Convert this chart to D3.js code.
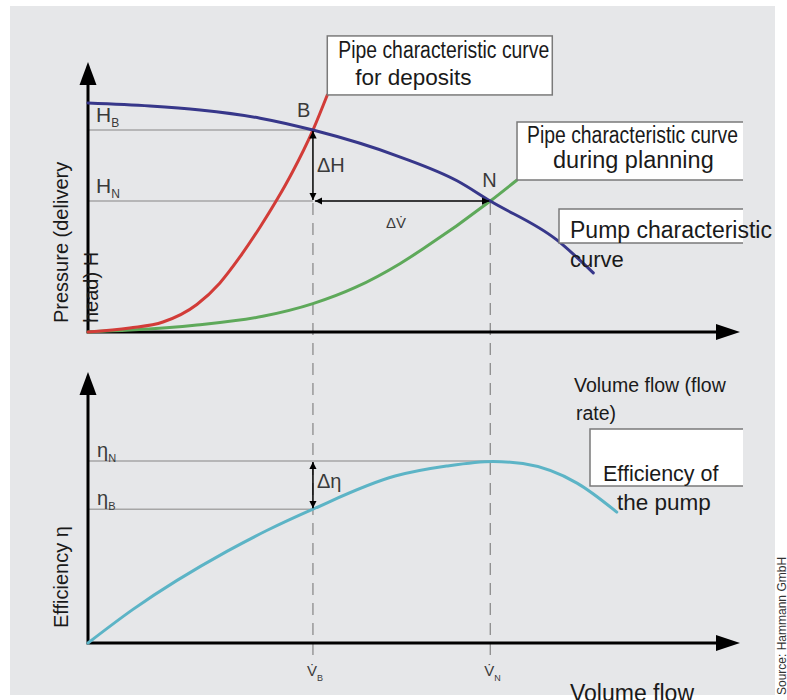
<!DOCTYPE html>
<meta charset="utf-8">
<html>
<head>
  <title>Pump and pipe characteristic curves</title>
  <style>
    body { margin: 0; background: #fff; }
    svg { display: block; font-family: 'Liberation Sans', Arial, sans-serif; }
    .panel { fill: #e6e7e9; }
    .axis { stroke: #000; stroke-width: 3px; fill: none; }
    .ref { stroke: #a6a6a6; stroke-width: 1.5px; fill: none; }
    .dash { stroke: #8c8c8c; stroke-width: 1.3px; stroke-dasharray: 12,8; fill: none; }
    .curve { fill: none; stroke-width: 3px; stroke-linecap: round; }
    .box { fill: #fff; stroke: #7a7a7a; stroke-width: 1.5px; }
    .lbl { fill: #1a1a1a; }
    .sym { fill: #3a3a3a; }
  </style>
  <script src="https://d3js.org/d3.v7.min.js"></script>
</head>
<body>
  <svg width="787" height="700"></svg>

  <script>
    // volume flow (0-100) vs pressure / efficiency (0-100)
    var pumpCurve = [[0,84.8],[9.5,83.7],[17.2,82.2],[26.4,79.2],[34.5,74.8],[47.9,64.8],[56.6,56.0],[61.7,48.5],[71.9,34.1],[77.5,21.9]];
    var pipeDeposits = [[0,0],[6.4,1.5],[11.5,3.7],[16.7,10.2],[20.2,18.1],[23.3,27.8],[26.4,38.9],[29.1,49.5],[31.3,59.0],[34.5,74.8],[36.7,87.8]];
    var pipePlanning = [[0,0],[6.4,0.7],[16.7,2.6],[26.8,5.8],[34.5,10.5],[41.0,16.5],[47.9,25.4],[51.4,30.8],[61.7,48.5],[65.8,56.3]];
    var efficiency = [[0,0],[6.9,12.4],[21.3,33.8],[27.5,41.6],[34.5,49.4],[47.1,61.6],[55.0,65.3],[62.1,67.0],[66.7,66.2],[75.0,59.0],[81.1,48.3]];

    // operating points
    var flowB = 34.5, flowN = 61.7;
    var headB = 74.8, headN = 48.5;
    var etaB = 49.4, etaN = 67.2;

    var svg = d3.select("svg");

    svg.append("rect").attr("class", "panel")
      .attr("x", 10).attr("y", 6).attr("width", 765).attr("height", 689);

    var x = d3.scaleLinear().domain([0, 100]).range([88, 740]);
    var yH = d3.scaleLinear().domain([0, 100]).range([332, 62]);
    var yE = d3.scaleLinear().domain([0, 100]).range([643, 372]);

    var defs = svg.append("defs");
    defs.append("marker")
      .attr("id", "tip")
      .attr("viewBox", "0 0 10 10")
      .attr("refX", 10).attr("refY", 5)
      .attr("markerWidth", 5).attr("markerHeight", 5)
      .attr("orient", "auto-start-reverse")
      .append("path").attr("d", "M0,0L10,5L0,10Z").attr("fill", "#000");

    var g = svg.append("g");

    // reference lines
    g.append("line").attr("class", "ref")
      .attr("x1", x(0)).attr("x2", x(flowB)).attr("y1", yH(headB)).attr("y2", yH(headB));
    g.append("line").attr("class", "ref")
      .attr("x1", x(0)).attr("x2", x(flowB)).attr("y1", yH(headN)).attr("y2", yH(headN));
    g.append("line").attr("class", "ref")
      .attr("x1", x(0)).attr("x2", x(flowN)).attr("y1", yE(etaN)).attr("y2", yE(etaN));
    g.append("line").attr("class", "ref")
      .attr("x1", x(0)).attr("x2", x(flowB)).attr("y1", yE(etaB)).attr("y2", yE(etaB));

    // dashed verticals
    [flowB, flowN].forEach(function(f) {
      g.append("line").attr("class", "dash")
        .attr("x1", x(f)).attr("x2", x(f))
        .attr("y1", yH(headN) + 2).attr("y2", yE(0) + 20);
    });

    // axes with arrow heads
    function axisPair(yScale) {
      var y0 = yScale(0), top = yScale(100), right = x(100);
      g.append("path").attr("class", "axis")
        .attr("d", "M" + x(0) + "," + (top + 15) + "V" + y0 + "H" + (right - 15));
      g.append("path").attr("fill", "#000")
        .attr("d", "M" + x(0) + "," + top + "L" + (x(0) + 8.5) + "," + (top + 23) + "L" + (x(0) - 8.5) + "," + (top + 23) + "Z");
      g.append("path").attr("fill", "#000")
        .attr("d", "M" + right + "," + y0 + "L" + (right - 24) + "," + (y0 - 8) + "L" + (right - 24) + "," + (y0 + 8) + "Z");
    }
    axisPair(yH);
    axisPair(yE);

    // curves
    var lineH = d3.line()
      .x(function(d) { return x(d[0]); })
      .y(function(d) { return yH(d[1]); })
      .curve(d3.curveMonotoneX);
    var lineE = d3.line()
      .x(function(d) { return x(d[0]); })
      .y(function(d) { return yE(d[1]); })
      .curve(d3.curveMonotoneX);

    g.append("path").datum(pipePlanning).attr("class", "curve").attr("stroke", "#5ea95a").attr("d", lineH);
    g.append("path").datum(pipeDeposits).attr("class", "curve").attr("stroke", "#d23c38").attr("d", lineH);
    g.append("path").datum(pumpCurve).attr("class", "curve").attr("stroke", "#37378a").attr("d", lineH);
    g.append("path").datum(efficiency).attr("class", "curve").attr("stroke", "#5cb4c6").attr("stroke-width", 3.5).attr("d", lineE);

    // delta arrows
    g.append("line").attr("stroke", "#000").attr("stroke-width", 1.5)
      .attr("marker-start", "url(#tip)").attr("marker-end", "url(#tip)")
      .attr("x1", x(flowB)).attr("x2", x(flowB)).attr("y1", yH(headB) + 1).attr("y2", yH(headN) - 1);
    g.append("line").attr("stroke", "#000").attr("stroke-width", 1.5)
      .attr("marker-start", "url(#tip)").attr("marker-end", "url(#tip)")
      .attr("x1", x(flowB) + 2).attr("x2", x(flowN) - 1).attr("y1", yH(headN)).attr("y2", yH(headN));
    g.append("line").attr("stroke", "#000").attr("stroke-width", 1.5)
      .attr("marker-start", "url(#tip)").attr("marker-end", "url(#tip)")
      .attr("x1", x(flowB)).attr("x2", x(flowB)).attr("y1", yE(etaN) + 1).attr("y2", yE(etaB) - 1);

    // labels with subscripts
    function subLabel(px, py, main, sub, size, subSize, cls) {
      var t = g.append("text").attr("class", cls || "sym")
        .attr("x", px).attr("y", py).attr("font-size", size);
      t.append("tspan").text(main);
      t.append("tspan").attr("dy", 5).attr("font-size", subSize).text(sub);
      return t;
    }
    subLabel(x(0) + 8, yH(headB) - 8, "H", "B", 21, 12);
    subLabel(x(0) + 8, yH(headN) - 8, "H", "N", 21, 12);
    subLabel(x(0) + 9, yE(etaN) - 4, "η", "N", 20, 11);
    subLabel(x(0) + 9, yE(etaB) - 4, "η", "B", 20, 11);
    subLabel(x(flowB) - 6, yE(0) + 33, "V\u0307", "B", 15, 9, "sym").attr("fill", "#555");
    subLabel(x(flowN) - 6, yE(0) + 33, "V\u0307", "N", 15, 9, "sym").attr("fill", "#555");

    g.append("text").attr("class", "sym").attr("font-size", 20)
      .attr("x", x(flowB) - 16).attr("y", yH(headB) - 13).text("B");
    g.append("text").attr("class", "sym").attr("font-size", 20)
      .attr("x", x(flowN) - 8).attr("y", yH(headN) - 14).text("N");
    g.append("text").attr("class", "sym").attr("font-size", 20)
      .attr("x", x(flowB) + 4).attr("y", yH(headB) + 42).text("ΔH");
    g.append("text").attr("class", "sym").attr("font-size", 15).attr("fill", "#555")
      .attr("x", x(flowB) + 73).attr("y", yH(headN) + 27).text("ΔV\u0307");
    g.append("text").attr("class", "sym").attr("font-size", 20)
      .attr("x", x(flowB) + 4).attr("y", yE(etaN) + 27).text("Δη");

    // annotation boxes
    var end1 = pipeDeposits[pipeDeposits.length - 1];
    var end2 = pipePlanning[pipePlanning.length - 1];
    var b1x = x(end1[0]), b1y = yH(end1[1]);
    g.append("rect").attr("class", "box")
      .attr("x", b1x).attr("y", b1y - 59).attr("width", 225).attr("height", 59);
    g.append("text").attr("class", "lbl").attr("font-size", 23)
      .attr("textLength", 211).attr("lengthAdjust", "spacingAndGlyphs")
      .attr("x", b1x + 11).attr("y", b1y - 37).text("Pipe characteristic curve");
    g.append("text").attr("class", "lbl").attr("font-size", 22.5)
      .attr("x", b1x + 28).attr("y", b1y - 10).text("for deposits");

    function openBox(bx, by, bw, bh) {
      g.append("rect").attr("fill", "#fff").attr("x", bx).attr("y", by).attr("width", bw).attr("height", bh);
      g.append("path").attr("fill", "none").attr("stroke", "#7a7a7a").attr("stroke-width", 1.5)
        .attr("d", "M" + (bx + bw) + "," + by + "H" + bx + "V" + (by + bh) + "H" + (bx + bw));
    }
    var b2x = x(end2[0]), b2y = yH(end2[1]);
    openBox(b2x, b2y - 58, 226, 58);
    g.append("text").attr("class", "lbl").attr("font-size", 23)
      .attr("textLength", 211).attr("lengthAdjust", "spacingAndGlyphs")
      .attr("x", b2x + 10).attr("y", b2y - 37).text("Pipe characteristic curve");
    g.append("text").attr("class", "lbl").attr("font-size", 23.5)
      .attr("x", b2x + 36).attr("y", b2y - 12).text("during planning");

    openBox(559, 209, 184, 34);
    g.append("text").attr("class", "lbl").attr("font-size", 23)
      .attr("x", 570).attr("y", 238).text("Pump characteristic");
    g.append("text").attr("class", "lbl").attr("font-size", 22)
      .attr("x", 570).attr("y", 267).text("curve");

    g.append("text").attr("class", "lbl").attr("font-size", 19.5)
      .attr("x", 574).attr("y", 392).text("Volume flow (flow");
    g.append("text").attr("class", "lbl").attr("font-size", 19.5)
      .attr("x", 576).attr("y", 420).text("rate)");

    openBox(590, 429, 153, 57);
    g.append("text").attr("class", "lbl").attr("font-size", 21.5)
      .attr("x", 603).attr("y", 481).text("Efficiency of");
    g.append("text").attr("class", "lbl").attr("font-size", 22.5)
      .attr("x", 617).attr("y", 510).text("the pump");

    g.append("text").attr("class", "lbl").attr("font-size", 23)
      .attr("x", 570).attr("y", 701).text("Volume flow");

    // y axis titles
    g.append("text").attr("class", "lbl").attr("font-size", 20)
      .attr("transform", "translate(68,323) rotate(-90)").text("Pressure (delivery");
    g.append("text").attr("class", "lbl").attr("font-size", 20)
      .attr("transform", "translate(98,323) rotate(-90)").text("head) H");
    g.append("text").attr("class", "lbl").attr("font-size", 20)
      .attr("transform", "translate(68,628) rotate(-90)").text("Efficiency η");

    // source
    g.append("text").attr("fill", "#333").attr("font-size", 12)
      .attr("transform", "translate(786,695) rotate(-90)").text("Source: Hammann GmbH");
  </script>
</body>
</html>
